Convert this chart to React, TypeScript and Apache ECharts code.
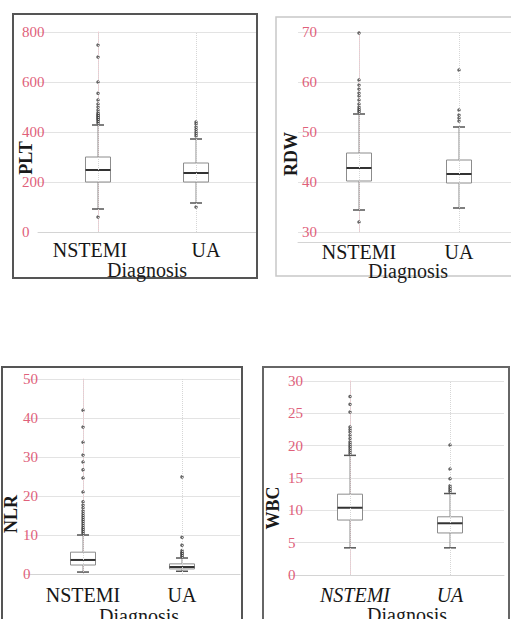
import React, { useEffect, useRef } from "react";
import * as echarts from "echarts";

// ---- data ----
const categories = ["NSTEMI", "UA"];
const xTitle = "Diagnosis";

// [low whisker, Q1, median, Q3, high whisker]
const pltStats = [
  [92, 200, 248, 300, 428],
  [116, 200, 236, 276, 372],
];
const pltOutNSTEMI = [60, 436, 442, 448, 452, 456, 460, 464, 468, 472, 478, 488, 500, 512, 528, 555, 600, 700, 748];
const pltOutUA = [100, 384, 392, 400, 410, 420, 432, 440];

const rdwStats = [
  [34.4, 40.2, 42.8, 45.8, 53.6],
  [34.8, 39.8, 41.6, 44.4, 51.0],
];
const rdwOutNSTEMI = [32, 54.0, 54.3, 54.6, 55.0, 55.6, 56.4, 57.2, 57.8, 58.6, 59.4, 60.4, 69.8];
const rdwOutUA = [52.2, 52.8, 53.4, 54.4, 62.4];

const nlrStats = [
  [0.5, 2.3, 3.6, 5.6, 10.0],
  [0.7, 1.3, 1.8, 2.6, 4.1],
];
const nlrOutNSTEMI = [10.4, 10.8, 11.2, 11.6, 12.0, 12.5, 13.0, 13.5, 14.0, 14.5, 15.0, 15.6, 16.2, 17.0, 17.7, 18.5, 21.0, 24.6, 26.7, 28.7, 30.5, 33.8, 37.7, 42.0];
const nlrOutUA = [4.4, 4.7, 5.0, 5.3, 5.6, 6.0, 7.4, 9.4, 24.9];

const wbcStats = [
  [4.2, 8.5, 10.4, 12.5, 18.5],
  [4.2, 6.5, 8.0, 9.0, 12.6],
];
const wbcOutNSTEMI = [18.8, 19.1, 19.4, 19.7, 20.0, 20.3, 20.6, 21.1, 21.6, 22.1, 22.5, 22.9, 25.2, 26.4, 27.6];
const wbcOutUA = [12.9, 13.2, 13.5, 13.8, 14.9, 16.4, 20.1];

const pltTicks = { min: 0, max: 800, interval: 200 };
const rdwTicks = { min: 30, max: 70, interval: 10 };
const nlrTicks = { min: 0, max: 50, interval: 10 };
const wbcTicks = { min: 0, max: 30, interval: 5 };

// ---- layout ----
const SERIF = "Liberation Serif";
const TICK_RED = "#e0607a";

type Panel = {
  name: string;
  stats: number[][];
  outN: number[];
  outU: number[];
  ticks: { min: number; max: number; interval: number };
  grid: { left: number; top: number; width: number; height: number };
  xMin: number;
  xMax: number;
  xOffset: number;
  labelMargin: number;
  labelShift: number[];
  italic: boolean;
  nameX: number;
  nameY: number;
  diagX: number;
  diagY: number;
  frame: { x: number; y: number; w: number; h: number; color: string; lw: number };
};

const panels: Panel[] = [
  {
    name: "PLT", stats: pltStats, outN: pltOutNSTEMI, outU: pltOutUA, ticks: pltTicks,
    grid: { left: 38, top: 32, width: 219, height: 200 },
    xMin: -0.612, xMax: 1.622, xOffset: 8, labelMargin: 16, labelShift: [-8, 10], italic: false,
    nameX: 26, nameY: 158, diagX: 147, diagY: 270,
    frame: { x: 13, y: 14, w: 244, h: 264, color: "#555", lw: 2 },
  },
  {
    name: "RDW", stats: rdwStats, outN: rdwOutNSTEMI, outU: rdwOutUA, ticks: rdwTicks,
    grid: { left: 298, top: 32, width: 213, height: 200 },
    xMin: -0.61, xMax: 1.52, xOffset: 10, labelMargin: -4, labelShift: [0, 0], italic: false,
    nameX: 291, nameY: 154, diagX: 408, diagY: 271,
    frame: { x: 276, y: 17, w: 250, h: 259, color: "#c8c8c8", lw: 1.5 },
  },
  {
    name: "NLR", stats: nlrStats, outN: nlrOutNSTEMI, outU: nlrOutUA, ticks: nlrTicks,
    grid: { left: 25, top: 379, width: 215, height: 195 },
    xMin: -0.586, xMax: 1.586, xOffset: 11, labelMargin: 2, labelShift: [0, 0], italic: false,
    nameX: 11, nameY: 514, diagX: 139, diagY: 616,
    frame: { x: 2, y: 367, w: 240, h: 270, color: "#555", lw: 2 },
  },
  {
    name: "WBC", stats: wbcStats, outN: wbcOutNSTEMI, outU: wbcOutUA, ticks: wbcTicks,
    grid: { left: 289, top: 381, width: 215, height: 194 },
    xMin: -0.61, xMax: 1.54, xOffset: 10, labelMargin: 1, labelShift: [5, 0], italic: true,
    nameX: 273, nameY: 508, diagX: 407, diagY: 615,
    frame: { x: 263, y: 367, w: 246, h: 270, color: "#666", lw: 2 },
  },
];

function renderBox(_params: any, api: any) {
  const x = api.value(0);
  const lo = api.coord([x, api.value(1)]);
  const q1 = api.coord([x, api.value(2)]);
  const md = api.coord([x, api.value(3)]);
  const q3 = api.coord([x, api.value(4)]);
  const hi = api.coord([x, api.value(5)]);
  const cx = lo[0];
  const hw = 12.5;
  const cw = 6;
  const stroke = "#8c8c8c";
  return {
    type: "group",
    children: [
      { type: "line", shape: { x1: cx, y1: q3[1], x2: cx, y2: hi[1] }, style: { stroke, lineWidth: 1 } },
      { type: "line", shape: { x1: cx, y1: q1[1], x2: cx, y2: lo[1] }, style: { stroke, lineWidth: 1 } },
      { type: "line", shape: { x1: cx - cw, y1: hi[1], x2: cx + cw, y2: hi[1] }, style: { stroke: "#555", lineWidth: 1.5 } },
      { type: "line", shape: { x1: cx - cw, y1: lo[1], x2: cx + cw, y2: lo[1] }, style: { stroke: "#555", lineWidth: 1.5 } },
      {
        type: "rect",
        shape: { x: cx - hw, y: q3[1], width: 2 * hw, height: q1[1] - q3[1] },
        style: { fill: "#fff", stroke, lineWidth: 1 },
      },
      { type: "line", shape: { x1: cx - hw, y1: md[1], x2: cx + hw, y2: md[1] }, style: { stroke: "#333", lineWidth: 2 } },
    ],
  };
}

function buildOption() {
  const grid: any[] = [];
  const xAxis: any[] = [];
  const yAxis: any[] = [];
  const series: any[] = [];
  const graphic: any[] = [];

  panels.forEach((p, i) => {
    const catStyle = (shift: number) => ({
      fontFamily: SERIF,
      fontSize: 20,
      lineHeight: 16,
      color: "#161616",
      fontStyle: p.italic ? "italic" : "normal",
      padding: shift < 0 ? [0, -2 * shift, 0, 0] : [0, 0, 0, 2 * shift],
    });
    grid.push({ ...p.grid, containLabel: false });
    xAxis.push({
      type: "value",
      gridIndex: i,
      min: p.xMin,
      max: p.xMax,
      offset: p.xOffset,
      axisLine: { show: true, lineStyle: { color: "#d4d4d4", width: 1 } },
      axisTick: { show: false, customValues: [0, 1] },
      splitLine: { show: false },
      axisLabel: {
        customValues: [0, 1],
        formatter: (v: number) => {
          const k = Math.round(v);
          return categories[k] != null ? `{c${k}|${categories[k]}}` : "";
        },
        margin: 2,
        color: "#161616",
        fontFamily: SERIF,
        fontSize: 20,
        lineHeight: 16,
        fontStyle: p.italic ? "italic" : "normal",
        rich: { c0: catStyle(p.labelShift[0]), c1: catStyle(p.labelShift[1]) },
      },
    });
    yAxis.push({
      type: "value",
      gridIndex: i,
      min: p.ticks.min,
      max: p.ticks.max,
      interval: p.ticks.interval,
      axisLine: { show: true, lineStyle: { color: "#f4ccd3", width: 1 } },
      axisTick: { show: false },
      splitLine: { show: true, lineStyle: { color: "#e3e3e3", width: 1 } },
      axisLabel: {
        align: "left",
        margin: p.labelMargin,
        color: TICK_RED,
        fontFamily: SERIF,
        fontSize: 15,
      },
    });
    series.push({
      type: "custom",
      xAxisIndex: i,
      yAxisIndex: i,
      z: 3,
      renderItem: renderBox,
      encode: { x: 0, y: [1, 2, 3, 4, 5] },
      data: p.stats.map((s, k) => [k, ...s]),
    });
    series.push({
      type: "scatter",
      xAxisIndex: i,
      yAxisIndex: i,
      z: 1,
      symbol: "circle",
      symbolSize: 3.5,
      itemStyle: { color: "#444" },
      data: [...p.outN.map((v) => [0, v]), ...p.outU.map((v) => [1, v])],
      markLine: {
        silent: true,
        symbol: "none",
        label: { show: false },
        lineStyle: { color: "#d6d6d6", type: "dotted", width: 1 },
        data: [{ xAxis: 0 }, { xAxis: 1 }],
      },
    });
    graphic.push({
      type: "rect",
      shape: { x: p.frame.x, y: p.frame.y, width: p.frame.w, height: p.frame.h },
      style: { fill: "none", stroke: p.frame.color, lineWidth: p.frame.lw },
      silent: true,
      z: 10,
    });
    graphic.push({
      type: "text",
      x: p.nameX,
      y: p.nameY,
      rotation: Math.PI / 2,
      style: {
        text: p.name,
        fontFamily: SERIF,
        fontSize: 18,
        fontWeight: "bold",
        fill: "#1a1a1a",
        align: "center",
        verticalAlign: "middle",
      },
      z: 11,
    });
    graphic.push({
      type: "text",
      x: p.diagX,
      y: p.diagY,
      style: {
        text: xTitle,
        fontFamily: SERIF,
        fontSize: 20,
        lineHeight: 16,
        fill: "#1a1a1a",
        align: "center",
        verticalAlign: "middle",
      },
      z: 11,
    });
  });

  return {
    animation: false,
    backgroundColor: "#ffffff",
    grid,
    xAxis,
    yAxis,
    series,
    graphic,
  };
}

export default function App() {
  const ref = useRef<HTMLDivElement>(null);
  useEffect(() => {
    if (!ref.current) return;
    const chart = echarts.init(ref.current, undefined, { renderer: "svg" });
    chart.setOption(buildOption() as any);
    return () => chart.dispose();
  }, []);
  return (
    <div
      ref={ref}
      style={{ position: "fixed", left: 0, top: 0, width: 511, height: 619, background: "#fff" }}
    />
  );
}
